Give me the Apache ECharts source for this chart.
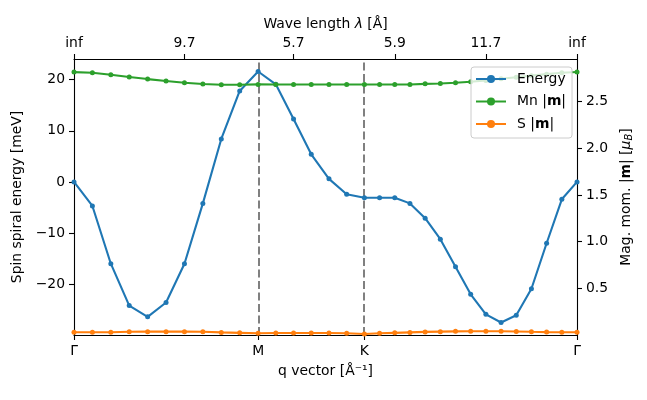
<!DOCTYPE html>
<html>
<head>
<meta charset="utf-8">
<script src="https://cdn.jsdelivr.net/npm/echarts@6/dist/echarts.min.js"></script>
<style>html,body{margin:0;padding:0;background:#fff}#c{width:647px;height:400px}</style>
</head>
<body>
<div id="c"></div>
<script>
// q-path positions (Γ–M–K–Γ, hexagonal path, arbitrary units)
var qPath = [0, 0.0577, 0.1155, 0.1732, 0.2309, 0.2887, 0.3464, 0.4041, 0.4619, 0.5196, 0.5774,
  0.6329, 0.6885, 0.7440, 0.7996, 0.8551, 0.9107,
  0.9583, 1.0059, 1.0535, 1.1012, 1.1488, 1.1964, 1.2440, 1.2917, 1.3393, 1.3869, 1.4345, 1.4821, 1.5298, 1.5774];
var energy = [0, -4.7, -16.0, -24.2, -26.4, -23.6, -16.0, -4.2, 8.4, 17.8, 21.6,
  19.1, 12.3, 5.4, 0.6, -2.4, -3.1,
  -3.1, -3.1, -4.2, -7.1, -11.2, -16.6, -22.0, -25.9, -27.5, -26.1, -20.9, -12.0, -3.4, 0];
var mnMom = [2.815, 2.808, 2.787, 2.762, 2.740, 2.719, 2.701, 2.687, 2.679, 2.679, 2.683,
  2.682, 2.682, 2.682, 2.682, 2.682, 2.682,
  2.682, 2.682, 2.682, 2.689, 2.693, 2.700, 2.711, 2.726, 2.743, 2.760, 2.777, 2.793, 2.807, 2.815];
var sMom = [0.030, 0.029, 0.029, 0.034, 0.036, 0.036, 0.036, 0.034, 0.028, 0.023, 0.018,
  0.021, 0.021, 0.021, 0.021, 0.018, 0.011,
  0.018, 0.023, 0.028, 0.033, 0.036, 0.039, 0.040, 0.040, 0.040, 0.038, 0.034, 0.031, 0.030, 0.030];
var symPointIdx = [0, 10, 16, 30];
var symPointLabels = ['Γ', 'M', 'K', 'Γ'];
var waveIdx = [0, 6, 12, 18, 24, 30];
var waveLabels = ['inf', '9.7', '5.7', '5.9', '11.7', 'inf'];
var energyTicks = [-20, -10, 0, 10, 20];
var momTicks = [0.5, 1.0, 1.5, 2.0, 2.5];

var FONT = 'DejaVu Sans';
var FS = 13.9;
function pairs(ys){ return qPath.map(function(q,i){ return [q, ys[i]]; }); }
var symVals = symPointIdx.map(function(i){ return qPath[i]; });
var waveVals = waveIdx.map(function(i){ return qPath[i]; });
function lookup(vals, labels){
  return function(v){
    for (var i=0;i<vals.length;i++){ if (Math.abs(vals[i]-v) < 1e-6) return labels[i]; }
    return '';
  };
}
var axisLine = {show:true, onZero:false, lineStyle:{color:'#000', width:1.1}};
var tick = {show:true, inside:false, length:5, lineStyle:{color:'#000', width:1.1}};
var label = {color:'#000', fontFamily:FONT, fontSize:FS, margin:9};

var chart = echarts.init(document.getElementById('c'), null, {renderer:'canvas'});
chart.setOption({
  animation:false,
  backgroundColor:'#fff',
  textStyle:{fontFamily:FONT},
  grid:{left:74, right:70, top:59, bottom:65, containLabel:false},
  xAxis:[{
    type:'value', position:'bottom', min:qPath[0], max:qPath[qPath.length-1],
    axisLine:axisLine, axisTick:Object.assign({customValues:symVals}, tick),
    axisLabel:Object.assign({customValues:symVals, formatter:lookup(symVals, symPointLabels)}, label),
    splitLine:{show:false},
    name:'q vector [Å⁻¹]', nameLocation:'middle', nameGap:29,
    nameTextStyle:{color:'#000', fontFamily:FONT, fontSize:FS}
  },{
    type:'value', position:'top', min:qPath[0], max:qPath[qPath.length-1],
    axisLine:axisLine, axisTick:Object.assign({customValues:waveVals}, tick),
    axisLabel:Object.assign({customValues:waveVals, formatter:lookup(waveVals, waveLabels)}, label),
    splitLine:{show:false},
    name:'Wave length {i|λ} [Å]', nameLocation:'middle', nameGap:27,
    nameTextStyle:{color:'#000', fontFamily:FONT, fontSize:FS,
      rich:{i:{fontStyle:'italic', fontFamily:FONT, fontSize:FS, color:'#000'}}}
  }],
  yAxis:[{
    type:'value', position:'left', min:-29.95, max:24.05,
    axisLine:axisLine, axisTick:Object.assign({customValues:energyTicks}, tick),
    axisLabel:Object.assign({customValues:energyTicks, formatter:function(v){ return v<0 ? '\u2212'+Math.abs(v) : String(v); }}, label),
    splitLine:{show:false},
    name:'Spin spiral energy [meV]', nameLocation:'middle', nameGap:45,
    nameTextStyle:{color:'#000', fontFamily:FONT, fontSize:FS}
  },{
    type:'value', position:'right', min:0, max:2.955,
    axisLine:axisLine, axisTick:Object.assign({customValues:momTicks}, tick),
    axisLabel:Object.assign({customValues:momTicks, formatter:function(v){ return v.toFixed(1); }}, label),
    splitLine:{show:false},
    name:'Mag. mom. |{b|m}| [{i|μ}{s|B}]', nameLocation:'middle', nameGap:38,
    nameTextStyle:{color:'#000', fontFamily:FONT, fontSize:FS,
      rich:{
        b:{fontWeight:'bold', fontFamily:FONT, fontSize:FS, color:'#000'},
        i:{fontStyle:'italic', fontFamily:FONT, fontSize:FS, color:'#000'},
        s:{fontStyle:'italic', fontFamily:FONT, fontSize:10, color:'#000', padding:[6,0,0,0]}
      }}
  }],
  legend:{
    orient:'vertical', left:471, top:67, z:20, zlevel:0,
    itemWidth:30, itemHeight:10, itemGap:8.5,
    padding:[5,6,7,4],
    backgroundColor:'rgba(255,255,255,0.8)', borderColor:'#cccccc', borderWidth:1, borderRadius:3,
    textStyle:{color:'#000', fontFamily:FONT, fontSize:FS, padding:[0,0,0,6],
      rich:{b:{fontWeight:'bold', fontFamily:FONT, fontSize:FS, color:'#000'}}},
    formatter:function(n){
      if (n==='Mn') return 'Mn |{b|m}|';
      if (n==='S') return 'S |{b|m}|';
      return n;
    },
    data:['Energy','Mn','S']
  },
  series:[{
    name:'Energy', type:'line', xAxisIndex:0, yAxisIndex:0, data:pairs(energy),
    symbol:'circle', symbolSize:5, showSymbol:true,
    itemStyle:{color:'#1f77b4'}, lineStyle:{color:'#1f77b4', width:2.1},
    z:2,
    markLine:{
      silent:true, symbol:['none','none'], label:{show:false},
      lineStyle:{color:'#808080', type:[8,3.5], width:2},
      data:[{xAxis:qPath[10]},{xAxis:qPath[16]}],
      z:1
    }
  },{
    name:'Mn', type:'line', xAxisIndex:0, yAxisIndex:1, data:pairs(mnMom),
    symbol:'circle', symbolSize:5, showSymbol:true,
    itemStyle:{color:'#2ca02c'}, lineStyle:{color:'#2ca02c', width:2.1}, z:3
  },{
    name:'S', type:'line', xAxisIndex:0, yAxisIndex:1, data:pairs(sMom),
    symbol:'circle', symbolSize:5, showSymbol:true,
    itemStyle:{color:'#ff7f0e'}, lineStyle:{color:'#ff7f0e', width:2.1}, z:3
  }]
});
</script>
</body>
</html>
